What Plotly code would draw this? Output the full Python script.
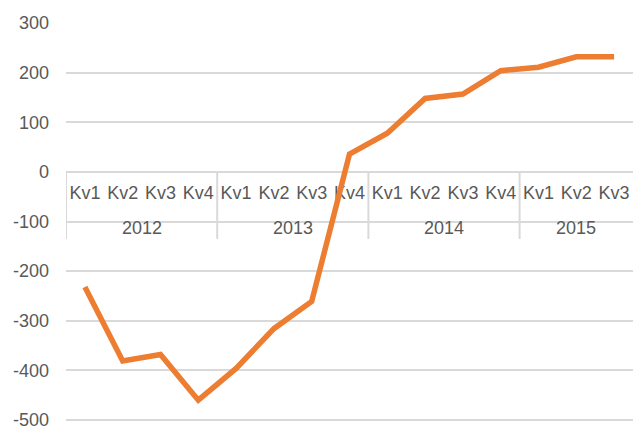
import plotly.graph_objects as go

quarters = ["Kv1", "Kv2", "Kv3", "Kv4", "Kv1", "Kv2", "Kv3", "Kv4",
            "Kv1", "Kv2", "Kv3", "Kv4", "Kv1", "Kv2", "Kv3"]
years = ["2012", "2013", "2014", "2015"]
year_counts = [4, 4, 4, 3]
values = [-232, -381, -368, -460, -396, -316, -261, 36,
          78, 148, 157, 204, 211, 232, 232]
y_ticks = [-500, -400, -300, -200, -100, 0, 100, 200, 300]

GRID = "#d9d9d9"
TEXT = "#595959"
FONT = "Liberation Sans, Arial, sans-serif"

xs = list(range(len(values)))

fig = go.Figure()
fig.add_trace(go.Scatter(
    x=xs, y=values, mode="lines",
    line=dict(color="#ED7D31", width=5.5),
    hoverinfo="skip", showlegend=False,
))

ymin, ymax = -504, 300
zero_pos = (0 - ymin) / (ymax - ymin)

# separators and year labels
shapes = []
annotations = []
start = 0
bounds = [-0.5]
for yr, n in zip(years, year_counts):
    center = start + (n - 1) / 2
    annotations.append(dict(
        x=center, y=0, xref="x", yref="y", text=yr, showarrow=False,
        yanchor="middle", yshift=-56,
        font=dict(size=18, color=TEXT, family=FONT),
    ))
    start += n
    bounds.append(start - 0.5)
for b in bounds[:-1]:
    shapes.append(dict(
        type="line", xref="x", yref="y", x0=b, x1=b, y0=0, y1=-135,
        line=dict(color=GRID, width=2), layer="below",
    ))

fig.update_layout(
    width=633, height=426,
    margin=dict(l=66, r=0, t=23, b=4, autoexpand=False),
    paper_bgcolor="white", plot_bgcolor="white",
    font=dict(family=FONT, size=18, color=TEXT),
    shapes=shapes, annotations=annotations,
    xaxis=dict(
        range=[-0.5, len(values) - 0.5],
        tickmode="array", tickvals=xs, ticktext=quarters,
        showgrid=False, zeroline=False, showline=False,
        ticks="", anchor="free", position=zero_pos,
        layer="below traces", ticklabelstandoff=8,
        ticklabeloverflow="allow", automargin=False,
        tickfont=dict(size=18, color=TEXT, family=FONT),
    ),
    yaxis=dict(
        range=[ymin, ymax], tickmode="array", tickvals=y_ticks,
        ticktext=[str(v) for v in y_ticks],
        showgrid=True, gridcolor=GRID, gridwidth=2,
        zeroline=False, showline=False, ticks="",
        ticklabelstandoff=16, ticklabeloverflow="allow", automargin=False,
        tickfont=dict(size=18, color=TEXT, family=FONT),
    ),
)

fig.write_html(
    "out.html",
    config={"displayModeBar": False},
    post_script="document.body.style.margin='0';document.body.style.overflow='hidden';",
)
